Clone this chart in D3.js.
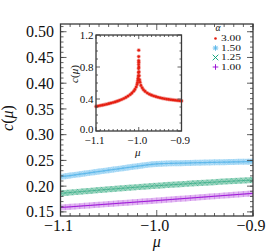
<!DOCTYPE html>
<html><head><meta charset="utf-8">
<script src="https://cdn.jsdelivr.net/npm/d3@7"></script>
<style>
body{margin:0;background:#fff}
svg{display:block}
text{font-family:"Liberation Serif","Times New Roman",serif;fill:#111}
</style>
</head><body><svg id="c" width="277" height="252" font-family="Liberation Serif, serif"></svg>
<script>
// ---- data ----
const mu = [-1.100,-1.095,-1.090,-1.085,-1.080,-1.075,-1.070,-1.065,-1.060,-1.055,-1.050,-1.045,-1.040,-1.035,-1.030,-1.025,-1.020,-1.015,-1.010,-1.005,-1.000,-0.995,-0.990,-0.985,-0.980,-0.975,-0.970,-0.965,-0.960,-0.955,-0.950,-0.945,-0.940,-0.935,-0.930,-0.925,-0.920,-0.915,-0.910,-0.905,-0.900];
const c150 = [0.2180,0.2193,0.2206,0.2219,0.2232,0.2245,0.2258,0.2271,0.2284,0.2297,0.2310,0.2323,0.2336,0.2349,0.2362,0.2375,0.2388,0.2400,0.2413,0.2424,0.2432,0.2437,0.2440,0.2443,0.2445,0.2447,0.2449,0.2452,0.2454,0.2456,0.2458,0.2460,0.2462,0.2464,0.2466,0.2468,0.2470,0.2472,0.2474,0.2476,0.2478];
const c125 = [0.1860,0.1868,0.1876,0.1884,0.1892,0.1900,0.1907,0.1915,0.1923,0.1930,0.1938,0.1945,0.1953,0.1960,0.1967,0.1974,0.1981,0.1988,0.1995,0.2001,0.2008,0.2014,0.2020,0.2026,0.2032,0.2038,0.2044,0.2050,0.2056,0.2062,0.2067,0.2073,0.2078,0.2084,0.2089,0.2094,0.2099,0.2104,0.2109,0.2114,0.2119];
const c100 = [0.1585,0.1592,0.1598,0.1605,0.1612,0.1619,0.1625,0.1632,0.1639,0.1646,0.1652,0.1659,0.1666,0.1673,0.1679,0.1686,0.1693,0.1700,0.1706,0.1713,0.1720,0.1727,0.1734,0.1741,0.1748,0.1755,0.1762,0.1769,0.1776,0.1783,0.1790,0.1797,0.1804,0.1811,0.1818,0.1825,0.1832,0.1839,0.1846,0.1853,0.1860];
const insetMu = [-1.100,-1.095,-1.090,-1.085,-1.080,-1.075,-1.070,-1.065,-1.060,-1.055,-1.050,-1.045,-1.040,-1.035,-1.030,-1.025,-1.020,-1.016,-1.012,-1.009,-1.006,-1.004,-1.003,-1.002,-1.0015,-1.001,-1.0005,-1.0003,-1.0002,-1.0001,-1.00005,-1.0,-0.9999,-0.9998,-0.9995,-0.999,-0.998,-0.997,-0.995,-0.992,-0.989,-0.985,-0.980,-0.975,-0.970,-0.965,-0.960,-0.955,-0.950,-0.945,-0.940,-0.935,-0.930,-0.925,-0.920,-0.915,-0.910,-0.905,-0.900];
const insetC300 = [0.307,0.312,0.318,0.323,0.329,0.335,0.342,0.349,0.356,0.364,0.373,0.383,0.394,0.406,0.420,0.436,0.455,0.474,0.497,0.520,0.550,0.580,0.605,0.635,0.660,0.690,0.730,0.780,0.830,0.880,0.930,1.010,0.860,0.800,0.740,0.690,0.640,0.610,0.570,0.540,0.515,0.495,0.475,0.460,0.448,0.438,0.430,0.422,0.415,0.409,0.404,0.399,0.395,0.391,0.388,0.385,0.382,0.379,0.376];
const alphaLabels = ["3.00","1.50","1.25","1.00"];
const mainXTicks = [-1.1,-1.0,-0.9];
const mainXTickLabels = ["\u22121.1","\u22121.0","\u22120.9"];
const mainYTicks = [0.15,0.20,0.25,0.30,0.35,0.40,0.45,0.50];
const mainYTickLabels = ["0.15","0.20","0.25","0.30","0.35","0.40","0.45","0.50"];
const insetXTicks = [-1.1,-1.0,-0.9];
const insetXTickLabels = ["\u22121.1","\u22121.0","\u22120.9"];
const insetYTicks = [0.0,0.4,0.8,1.2];
const insetYTickLabels = ["0.0","0.4","0.8","1.2"];

// ---- styles ----
const COL = {red:"#e51e10", blue:"#56b4e9", green:"#009e73", purple:"#9400d3"};
const FRAME = "#3a3a3a";

const svg = d3.select("#c");

// ---- main plot ----
const M = {l:60.5, r:253, t:24, b:216};
const x = d3.scaleLinear().domain([-1.1,-0.9]).range([M.l,M.r]);
const y = d3.scaleLinear().domain([0.142,0.515]).range([M.b,M.t]);

svg.append("clipPath").attr("id","mclip").append("rect")
  .attr("x",M.l).attr("y",M.t).attr("width",M.r-M.l).attr("height",M.b-M.t);

function markerPath(kind,s){
  if(kind==="+") return `M${-s},0H${s}M0,${-s}V${s}`;
  if(kind==="x") return `M${-s},${-s}L${s},${s}M${-s},${s}L${s},${-s}`;
  if(kind==="*") return `M${-s},0H${s}M0,${-s}V${s}M${-s*0.75},${-s*0.75}L${s*0.75},${s*0.75}M${-s*0.75},${s*0.75}L${s*0.75},${-s*0.75}`;
  return "";
}

const mainSeries = [
  {vals:c150, col:COL.blue, kind:"*", band:"#b5dff8", center:"#56b4e9", cw:1.2, mo:0.5},
  {vals:c125, col:COL.green, kind:"x", band:"#9ed6c0", center:"#2aa57e", cw:0.8, mo:0.5},
  {vals:c100, col:COL.purple, kind:"+", band:"#e2b8f2", center:"#9400d3", cw:1, mo:0.4}
];
const gS = svg.append("g").attr("clip-path","url(#mclip)");
const line = d3.line().x(d=>x(d[0])).y(d=>y(d[1]));
mainSeries.forEach(s=>{
  const pts = mu.map((m,i)=>[m,s.vals[i]]);
  gS.append("path").attr("d",line(pts)).attr("fill","none")
    .attr("stroke",s.band).attr("stroke-width",6);
  gS.append("g").selectAll("path").data(pts).join("path")
    .attr("transform",d=>`translate(${x(d[0])},${y(d[1])})`)
    .attr("d",markerPath(s.kind,3)).attr("fill","none")
    .attr("stroke",s.col).attr("stroke-width",0.6).attr("opacity",s.mo);
  gS.append("path").attr("d",line(pts)).attr("fill","none")
    .attr("stroke",s.center).attr("stroke-width",s.cw).attr("opacity",0.8);
});

// frame and ticks
function frameTicks(xs, ys, box, xMajor, yMajor, xMinor, yMinor, majL, minL){
  const gg = svg.append("g").attr("stroke",FRAME).attr("fill","none");
  gg.append("rect").attr("x",box.l).attr("y",box.t).attr("width",box.r-box.l).attr("height",box.b-box.t)
    .attr("stroke-width",1.3);
  const xt = [...xMajor.map(v=>[v,majL]), ...xMinor.map(v=>[v,minL])];
  const yt = [...yMajor.map(v=>[v,majL]), ...yMinor.map(v=>[v,minL])];
  gg.append("g").selectAll("line").data(xt).join("line").attr("stroke-width",0.8)
    .attr("x1",d=>xs(d[0])).attr("x2",d=>xs(d[0])).attr("y1",box.b).attr("y2",d=>box.b-d[1]);
  gg.append("g").selectAll("line").data(xt).join("line").attr("stroke-width",0.8)
    .attr("x1",d=>xs(d[0])).attr("x2",d=>xs(d[0])).attr("y1",box.t).attr("y2",d=>box.t+d[1]);
  gg.append("g").selectAll("line").data(yt).join("line").attr("stroke-width",0.8)
    .attr("y1",d=>ys(d[0])).attr("y2",d=>ys(d[0])).attr("x1",box.l).attr("x2",d=>box.l+d[1]);
  gg.append("g").selectAll("line").data(yt).join("line").attr("stroke-width",0.8)
    .attr("y1",d=>ys(d[0])).attr("y2",d=>ys(d[0])).attr("x1",box.r).attr("x2",d=>box.r-d[1]);
}
const mxMinor = d3.range(-1.09,-0.9,0.01).filter(v=>Math.abs(v+1.0)>1e-6);
const myMinor = d3.range(0.15,0.515,0.01);
frameTicks(x, y, M, mainXTicks, mainYTicks, mxMinor, myMinor, 6, 3);

// main tick labels
svg.append("g").selectAll("text").data(mainYTicks).join("text")
  .attr("x",54).attr("y",d=>y(d)).attr("dy","0.35em").attr("text-anchor","end")
  .attr("font-size",16).text((d,i)=>mainYTickLabels[i]);
svg.append("g").selectAll("text").data(mainXTicks).join("text")
  .attr("x",d=>x(d)-2).attr("y",231).attr("text-anchor","middle")
  .attr("font-size",16).text((d,i)=>mainXTickLabels[i]);
svg.append("text").attr("x",x(-1.0)).attr("y",247).attr("text-anchor","middle")
  .attr("font-size",16).attr("font-style","italic").text("\u03bc");
const yl = svg.append("text").attr("transform","translate(13,118) rotate(-90)")
  .attr("text-anchor","middle").attr("font-size",16);
yl.append("tspan").attr("font-style","italic").text("c");
yl.append("tspan").text("(");
yl.append("tspan").attr("font-style","italic").text("\u03bc");
yl.append("tspan").text(")");

// ---- inset ----
const I = {l:96, r:181.5, t:35, b:131};
const xi = d3.scaleLinear().domain([-1.1,-0.9]).range([I.l,I.r]);
const yi = d3.scaleLinear().domain([0,1.2]).range([I.b,I.t]);
svg.append("rect").attr("x",I.l).attr("y",I.t).attr("width",I.r-I.l).attr("height",I.b-I.t).attr("fill","#fff");
const redPts = insetMu.map((m,i)=>[m,insetC300[i]]);
svg.append("g").selectAll("circle").data(redPts).join("circle")
  .attr("cx",d=>xi(d[0])).attr("cy",d=>yi(d[1])).attr("r",2.1).attr("fill",COL.red).attr("opacity",0.35);
svg.append("g").selectAll("circle").data(redPts).join("circle")
  .attr("cx",d=>xi(d[0])).attr("cy",d=>yi(d[1])).attr("r",1.3).attr("fill",COL.red);
const ixMinor = d3.range(-1.09,-0.9,0.01).filter(v=>Math.abs(v+1.0)>1e-6);
const iyMinor = [0.1,0.2,0.3,0.5,0.6,0.7,0.9,1.0,1.1];
frameTicks(xi, yi, I, insetXTicks, insetYTicks, ixMinor, iyMinor, 4, 2);
svg.append("g").selectAll("text").data(insetYTicks).join("text")
  .attr("x",93.5).attr("y",d=>yi(d)-(d===0?1.5:0)).attr("dy","0.35em").attr("text-anchor","end")
  .attr("font-size",11).text((d,i)=>insetYTickLabels[i]);
svg.append("g").selectAll("text").data(insetXTicks).join("text")
  .attr("x",d=>xi(d)-1.5).attr("y",144).attr("text-anchor","middle")
  .attr("font-size",11).text((d,i)=>insetXTickLabels[i]);
svg.append("text").attr("x",xi(-1.0)-1).attr("y",156).attr("text-anchor","middle")
  .attr("font-size",11).attr("font-style","italic").text("\u03bc");
const yli = svg.append("text").attr("transform","translate(78,74) rotate(-90)")
  .attr("text-anchor","middle").attr("font-size",11);
yli.append("tspan").attr("font-style","italic").text("c");
yli.append("tspan").text("(");
yli.append("tspan").attr("font-style","italic").text("\u03bc");
yli.append("tspan").text(")");

// ---- legend ----
const legKinds = [{kind:"dot",col:COL.red},{kind:"*",col:COL.blue},{kind:"x",col:COL.green},{kind:"+",col:COL.purple}];
svg.append("text").attr("x",218).attr("y",30.5).attr("text-anchor","middle")
  .attr("font-size",9.5).attr("font-style","italic").text("\u03b1");
const lg = svg.append("g");
alphaLabels.forEach((lab,i)=>{
  const yy = 38.5 + i*9.5;
  const k = legKinds[i];
  if(k.kind==="dot"){
    lg.append("circle").attr("cx",215.5).attr("cy",yy).attr("r",1.3).attr("fill",k.col);
  } else {
    lg.append("path").attr("transform",`translate(215.5,${yy})`).attr("d",markerPath(k.kind,2.8))
      .attr("fill","none").attr("stroke",k.col).attr("stroke-width",0.9);
  }
  lg.append("text").attr("x",221).attr("y",yy).attr("dy","0.33em").attr("font-size",8.5)
    .attr("textLength",20).attr("lengthAdjust","spacingAndGlyphs").text(lab);
});
</script>
</body></html>
